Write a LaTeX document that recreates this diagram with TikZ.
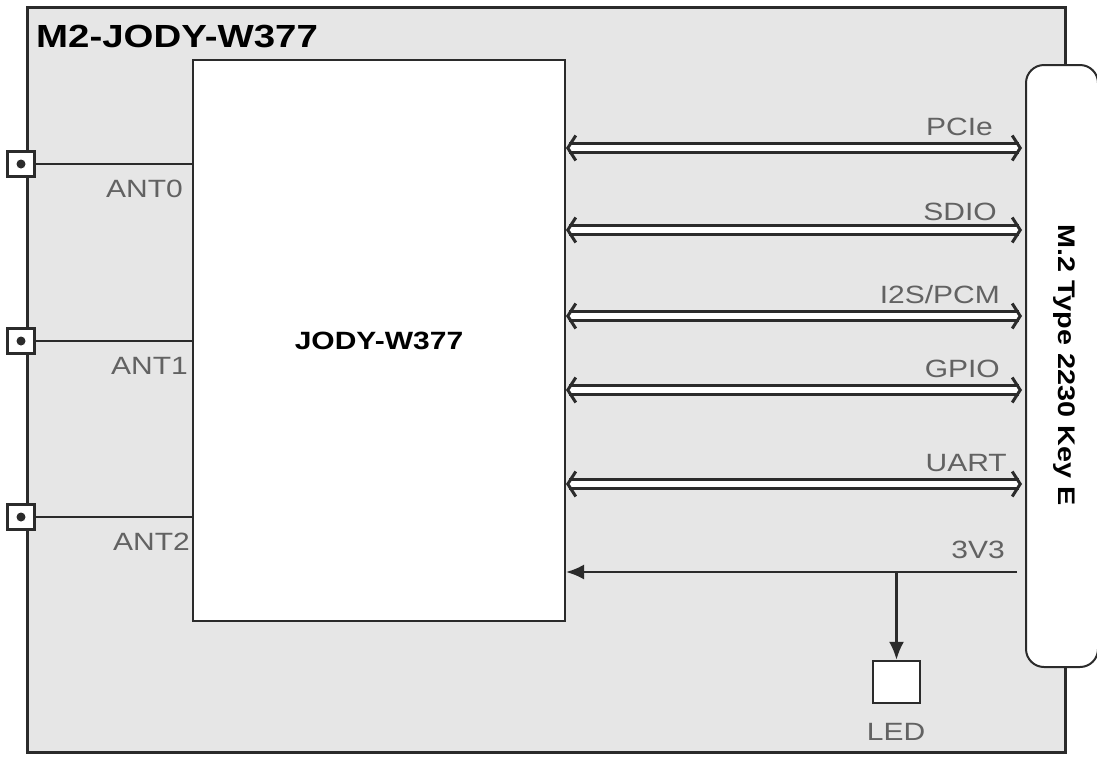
\documentclass[tikz,border=0pt]{standalone}
\usepackage{fontspec}
\setmainfont{Liberation Sans}[FakeStretch=1.2]
\usetikzlibrary{arrows.meta}

\definecolor{boardgray}{HTML}{E6E6E6}
\definecolor{labelgray}{HTML}{626262}
\definecolor{linegray}{HTML}{2B2B2B}

\tikzset{
  board/.style={draw=linegray, line width=3pt, fill=boardgray,
    minimum width=1038pt, minimum height=745pt, inner sep=0pt},
  boardtitle/.style={font=\bfseries\fontsize{32}{36}\selectfont, inner sep=0pt},
  chip/.style={draw=linegray, line width=2pt, fill=white,
    minimum width=372pt, minimum height=561pt, inner sep=0pt,
    font=\bfseries\fontsize{25}{28}\selectfont},
  m2conn/.style={draw=linegray, line width=2pt, fill=white, rounded corners=18pt,
    minimum width=72pt, minimum height=602pt, inner sep=0pt},
  m2label/.style={font=\bfseries\fontsize{24}{26}\selectfont, inner sep=0pt},
  antsq/.style={draw=linegray, line width=3pt, fill=white,
    minimum width=27pt, minimum height=25pt, inner sep=0pt},
  ledbox/.style={draw=linegray, line width=2.4pt, fill=white,
    minimum width=47pt, minimum height=42pt, inner sep=0pt},
  sig/.style={font=\fontsize{25}{28}\selectfont, text=labelgray, inner sep=0pt},
  wire/.style={draw=linegray, line width=2.4pt},
  bus/.style={draw=linegray, line width=3pt, double=white, double distance=5.5pt,
    {Straight Barb[length=8pt,width=25pt]}-{Straight Barb[length=8pt,width=25pt]},
    shorten >=3pt},
}

\begin{document}
\begin{tikzpicture}[x=1pt,y=-1pt]
  \useasboundingbox (0,0) rectangle (1097,756);

  % board, module and connector
  \node [board] (board) at (546,379.5) {};
  \node [boardtitle, anchor=base west] (title) at (36,47) {M2-JODY-W377};
  \node [chip] (chip) at (379,340.5) {JODY-W377};
  \node [m2conn] (m2) at (1062,366) {};
  \node [m2label, rotate=-90] (m2text) at (1064,365) {M.2 Type 2230 Key E};

  % antennas
  \foreach \i/\y/\lx in {0/164/183, 1/341/188, 2/517/190} {
    \node [antsq] (ant\i) at (21,\y) {};
    \fill [linegray] (ant\i.center) circle [radius=4.5pt];
    \draw [wire] (ant\i.east) -- (chip.west |- ant\i);
    \node [sig, anchor=base east] (antlbl\i) at (\lx,\y+33) {ANT\i};
  }

  % host interfaces
  \coordinate (pcie) at (0,148);
  \coordinate (sdio) at (0,230);
  \coordinate (i2s)  at (0,316);
  \coordinate (gpio) at (0,390);
  \coordinate (uart) at (0,484);

  \draw [bus] (chip.east |- pcie) -- (m2.west |- pcie);
  \draw [bus] (chip.east |- sdio) -- (m2.west |- sdio);
  \draw [bus] (chip.east |- i2s)  -- (m2.west |- i2s);
  \draw [bus] (chip.east |- gpio) -- (m2.west |- gpio);
  \draw [bus] (chip.east |- uart) -- (m2.west |- uart);

  \node [sig, anchor=base east] (pcielbl) at (993,135)  {PCIe};
  \node [sig, anchor=base east] (sdiolbl) at (997,220)  {SDIO};
  \node [sig, anchor=base east] (i2slbl)  at (1000,303) {I2S/PCM};
  \node [sig, anchor=base east] (gpiolbl) at (1000,377) {GPIO};
  \node [sig, anchor=base east] (uartlbl) at (1007,471) {UART};

  % supply and LED
  \coordinate (vin) at (1017,572);
  \node [ledbox] (led) at (896.5,682) {};
  \node [sig, anchor=base] (ledlbl) at (896,740) {LED};
  \node [sig, anchor=base east] (vlbl) at (1005,558) {3V3};

  \draw [wire, -{Latex[length=18pt,width=15pt]}] (vin) -- (chip.east |- vin);
  \draw [wire, -{Latex[length=18pt,width=15pt]}] (led.north |- vin) -- (led.north);
\end{tikzpicture}
\end{document}
